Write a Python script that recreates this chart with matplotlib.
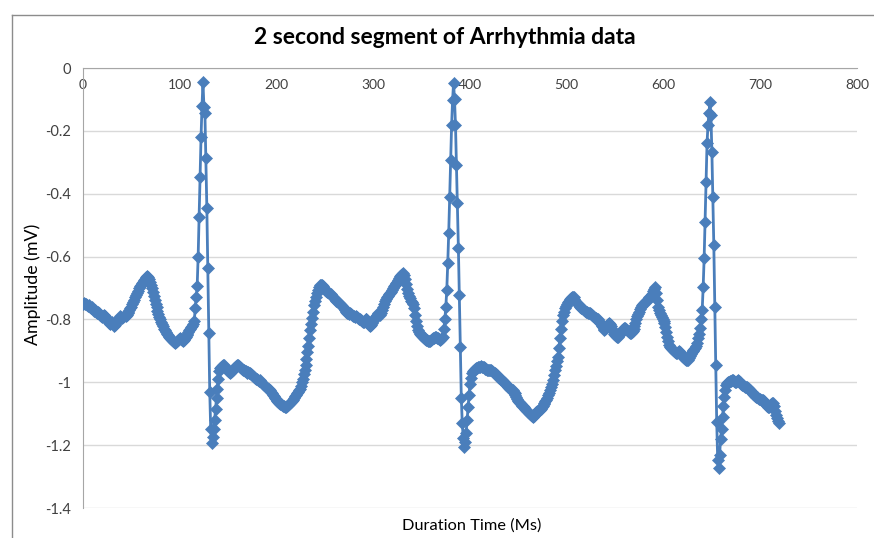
import numpy as np
import matplotlib.pyplot as plt
from matplotlib.lines import Line2D

plt.rcParams['font.family'] = ['Lato', 'DejaVu Sans']

# ECG amplitude (mV), one value per sample, 720 samples
amplitude_mv = [
    -0.750, -0.748, -0.752, -0.750, -0.755, -0.758, -0.755, -0.760, -0.765, -0.762, -0.768, -0.772, -0.770, -0.775, -0.780, -0.778, -0.775, -0.780, -0.785, -0.790,
    -0.792, -0.788, -0.785, -0.790, -0.795, -0.800, -0.805, -0.810, -0.815, -0.812, -0.808, -0.815, -0.820, -0.818, -0.810, -0.805, -0.800, -0.795, -0.790, -0.792,
    -0.795, -0.792, -0.788, -0.785, -0.790, -0.785, -0.780, -0.775, -0.770, -0.765, -0.760, -0.752, -0.745, -0.738, -0.730, -0.722, -0.715, -0.708, -0.700, -0.695,
    -0.690, -0.685, -0.680, -0.675, -0.670, -0.665, -0.662, -0.665, -0.672, -0.680, -0.690, -0.700, -0.712, -0.725, -0.738, -0.750, -0.762, -0.772, -0.782, -0.792,
    -0.800, -0.808, -0.815, -0.822, -0.830, -0.835, -0.840, -0.845, -0.850, -0.855, -0.860, -0.862, -0.865, -0.868, -0.872, -0.875, -0.872, -0.868, -0.865, -0.862,
    -0.860, -0.862, -0.865, -0.868, -0.865, -0.860, -0.855, -0.850, -0.845, -0.840, -0.835, -0.830, -0.825, -0.820, -0.815, -0.805, -0.764, -0.729, -0.694, -0.601,
    -0.474, -0.347, -0.220, -0.121, -0.045, -0.123, -0.143, -0.286, -0.445, -0.636, -0.843, -1.030, -1.150, -1.193, -1.175, -1.150, -1.120, -1.085, -1.050, -1.020,
    -0.990, -0.965, -0.955, -0.950, -0.948, -0.945, -0.945, -0.950, -0.955, -0.960, -0.965, -0.968, -0.970, -0.968, -0.965, -0.960, -0.955, -0.950, -0.948, -0.945,
    -0.945, -0.948, -0.950, -0.955, -0.958, -0.960, -0.962, -0.965, -0.965, -0.968, -0.970, -0.968, -0.970, -0.972, -0.975, -0.978, -0.980, -0.983, -0.985, -0.988,
    -0.990, -0.992, -0.995, -0.993, -0.998, -1.002, -1.005, -1.008, -1.012, -1.015, -1.018, -1.020, -1.022, -1.025, -1.030, -1.035, -1.040, -1.045, -1.050, -1.052,
    -1.055, -1.058, -1.062, -1.066, -1.068, -1.070, -1.072, -1.075, -1.076, -1.078, -1.078, -1.075, -1.072, -1.068, -1.065, -1.062, -1.058, -1.056, -1.050, -1.045,
    -1.040, -1.035, -1.030, -1.026, -1.022, -1.012, -1.000, -0.988, -0.975, -0.960, -0.945, -0.925, -0.905, -0.885, -0.860, -0.835, -0.815, -0.795, -0.775, -0.755,
    -0.740, -0.728, -0.715, -0.705, -0.698, -0.692, -0.690, -0.692, -0.695, -0.700, -0.705, -0.710, -0.712, -0.712, -0.715, -0.718, -0.720, -0.725, -0.728, -0.732,
    -0.735, -0.738, -0.740, -0.742, -0.745, -0.748, -0.752, -0.755, -0.758, -0.762, -0.765, -0.770, -0.775, -0.778, -0.780, -0.782, -0.780, -0.782, -0.785, -0.788,
    -0.790, -0.792, -0.790, -0.792, -0.795, -0.798, -0.800, -0.803, -0.805, -0.807, -0.808, -0.805, -0.800, -0.798, -0.802, -0.810, -0.818, -0.822, -0.818, -0.810,
    -0.805, -0.800, -0.795, -0.790, -0.785, -0.780, -0.782, -0.785, -0.780, -0.770, -0.760, -0.750, -0.742, -0.735, -0.730, -0.725, -0.720, -0.717, -0.712, -0.705,
    -0.700, -0.695, -0.690, -0.688, -0.685, -0.680, -0.675, -0.668, -0.662, -0.658, -0.655, -0.653, -0.660, -0.672, -0.688, -0.702, -0.717, -0.725, -0.732, -0.740,
    -0.745, -0.750, -0.765, -0.785, -0.805, -0.822, -0.833, -0.840, -0.845, -0.848, -0.852, -0.855, -0.858, -0.860, -0.862, -0.865, -0.866, -0.868, -0.870, -0.868,
    -0.865, -0.862, -0.860, -0.858, -0.856, -0.855, -0.858, -0.860, -0.862, -0.865, -0.862, -0.860, -0.855, -0.830, -0.800, -0.760, -0.706, -0.621, -0.525, -0.410,
    -0.293, -0.181, -0.102, -0.048, -0.100, -0.181, -0.309, -0.430, -0.573, -0.722, -0.887, -1.050, -1.130, -1.177, -1.205, -1.190, -1.160, -1.120, -1.080, -1.040,
    -1.005, -0.985, -0.972, -0.965, -0.960, -0.958, -0.955, -0.955, -0.952, -0.950, -0.950, -0.948, -0.950, -0.950, -0.952, -0.955, -0.958, -0.958, -0.960, -0.962,
    -0.962, -0.960, -0.962, -0.965, -0.968, -0.970, -0.972, -0.975, -0.978, -0.982, -0.985, -0.988, -0.990, -0.992, -0.995, -1.000, -1.003, -1.008, -1.010, -1.015,
    -1.018, -1.020, -1.022, -1.024, -1.026, -1.030, -1.035, -1.042, -1.048, -1.052, -1.058, -1.062, -1.066, -1.070, -1.074, -1.077, -1.080, -1.084, -1.088, -1.092,
    -1.095, -1.098, -1.100, -1.105, -1.108, -1.110, -1.106, -1.100, -1.095, -1.092, -1.090, -1.088, -1.088, -1.084, -1.080, -1.075, -1.070, -1.065, -1.060, -1.056,
    -1.050, -1.042, -1.035, -1.025, -1.015, -1.005, -0.993, -0.978, -0.962, -0.948, -0.932, -0.918, -0.890, -0.860, -0.830, -0.805, -0.785, -0.775, -0.765, -0.758,
    -0.750, -0.745, -0.740, -0.735, -0.732, -0.730, -0.728, -0.730, -0.735, -0.740, -0.745, -0.748, -0.752, -0.755, -0.760, -0.763, -0.765, -0.768, -0.770, -0.772,
    -0.775, -0.777, -0.778, -0.780, -0.780, -0.783, -0.786, -0.790, -0.792, -0.795, -0.797, -0.800, -0.800, -0.805, -0.810, -0.815, -0.820, -0.825, -0.830, -0.834,
    -0.832, -0.826, -0.820, -0.815, -0.812, -0.815, -0.822, -0.830, -0.838, -0.845, -0.850, -0.853, -0.855, -0.855, -0.850, -0.845, -0.840, -0.835, -0.830, -0.828,
    -0.828, -0.830, -0.833, -0.836, -0.840, -0.842, -0.842, -0.840, -0.838, -0.830, -0.820, -0.810, -0.800, -0.790, -0.782, -0.775, -0.768, -0.760, -0.755, -0.750,
    -0.748, -0.745, -0.742, -0.740, -0.735, -0.730, -0.728, -0.725, -0.718, -0.710, -0.702, -0.696, -0.715, -0.738, -0.760, -0.770, -0.778, -0.785, -0.792, -0.800,
    -0.806, -0.812, -0.825, -0.840, -0.855, -0.870, -0.882, -0.888, -0.892, -0.895, -0.898, -0.900, -0.903, -0.906, -0.908, -0.905, -0.902, -0.905, -0.910, -0.915,
    -0.918, -0.922, -0.925, -0.928, -0.930, -0.928, -0.922, -0.915, -0.910, -0.905, -0.900, -0.898, -0.895, -0.890, -0.885, -0.876, -0.860, -0.845, -0.828, -0.800,
    -0.770, -0.697, -0.605, -0.489, -0.362, -0.239, -0.180, -0.144, -0.107, -0.150, -0.266, -0.410, -0.563, -0.760, -0.945, -1.125, -1.247, -1.273, -1.230, -1.180,
    -1.150, -1.110, -1.075, -1.046, -1.025, -1.010, -1.003, -1.000, -0.998, -0.995, -0.995, -0.993, -0.993, -0.995, -0.998, -1.000, -0.996, -0.993, -0.995, -1.000,
    -1.004, -1.008, -1.010, -1.012, -1.014, -1.014, -1.014, -1.018, -1.022, -1.026, -1.030, -1.032, -1.035, -1.038, -1.040, -1.043, -1.046, -1.048, -1.050, -1.052,
    -1.054, -1.055, -1.056, -1.056, -1.060, -1.065, -1.070, -1.075, -1.080, -1.078, -1.074, -1.070, -1.067, -1.067, -1.075, -1.090, -1.105, -1.115, -1.122, -1.130,
]
duration_ms = np.arange(len(amplitude_mv))

x_ticks = [0, 100, 200, 300, 400, 500, 600, 700, 800]
x_tick_labels = ['0', '100', '200', '300', '400', '500', '600', '700', '800']
y_ticks = [0, -0.2, -0.4, -0.6, -0.8, -1.0, -1.2, -1.4]
y_tick_labels = ['0', '-0.2', '-0.4', '-0.6', '-0.8', '-1', '-1.2', '-1.4']

W, H = 874, 538
fig = plt.figure(figsize=(W / 100, H / 100), dpi=100)

# chart frame: only the left and top edges fall inside the image
fig.lines.append(Line2D([12 / W, 12 / W], [0, 1 - 15 / H], transform=fig.transFigure,
                        color='#8C8C8C', lw=1))
fig.lines.append(Line2D([12 / W, 1], [1 - 15 / H, 1 - 15 / H], transform=fig.transFigure,
                        color='#8C8C8C', lw=1))

ax = fig.add_axes([83 / W, 1 - 508 / H, 774 / W, 440 / H])
ax.plot(duration_ms, amplitude_mv, color='#4A7EBB', lw=2, marker='D', ms=5.8,
        mfc='#4A7EBB', mec='#4A7EBB', mew=0.5, zorder=3)

ax.set_xlim(0, 800)
ax.set_ylim(-1.4, 0)

# horizontal axis crosses at y = 0, labels sit under it
ax.spines['bottom'].set_position(('data', 0))
ax.spines['bottom'].set_color('#A6A6A6')
ax.spines['left'].set_color('#A6A6A6')
ax.spines['top'].set_visible(False)
ax.spines['right'].set_visible(False)

ax.set_xticks(x_ticks)
ax.set_xticklabels(x_tick_labels)
ax.set_yticks(y_ticks)
ax.set_yticklabels(y_tick_labels)
ax.tick_params(axis='x', length=0, labelsize=10, labelcolor='#404040', pad=8)
ax.tick_params(axis='y', length=0, labelsize=10.5, labelcolor='#404040', pad=8.5)

ax.set_axisbelow(True)
ax.yaxis.grid(True, color='#D9D9D9', lw=1)

fig.text(445 / W, 1 - 38 / H, '2 second segment of Arrhythmia data', ha='center', va='center',
         fontsize=16.5, fontweight='bold', color='black')
fig.text(33 / W, 1 - 284 / H, 'Amplitude (mV)', rotation=90, ha='center', va='center',
         fontsize=12.8, color='black')
fig.text(472 / W, 1 - 526 / H, 'Duration Time (Ms)', ha='center', va='center',
         fontsize=11.8, color='black')

fig.savefig('out.png', dpi=100)
